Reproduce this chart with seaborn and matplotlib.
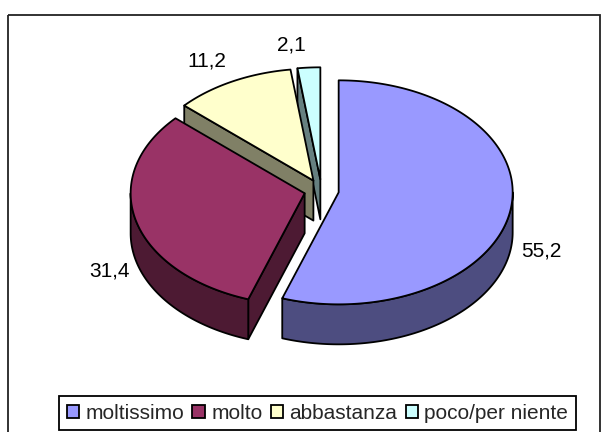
import matplotlib
matplotlib.use("Agg")
import matplotlib.pyplot as plt
import numpy as np
import seaborn as sns
from matplotlib.patches import Patch, Rectangle

categories = ["moltissimo", "molto", "abbastanza", "poco/per niente"]
values = [55.2, 31.4, 11.2, 2.1]
colors = ["#9999FF", "#993366", "#FFFFCC", "#CCFFFF"]

# Pixel layout of the pie
CX, CY = 321.5, 190.5
RX, RY = 174, 112
DEPTH = 40
EXPLODE = 0.1
LABEL_POS = [(541, 251), (109, 271), (207, 61), (291, 45)]


def point(center, angle, k=1.0):
    # angle in degrees, clockwise from the top
    a = np.radians(angle)
    return center[0] + k * RX * np.sin(a), center[1] - k * RY * np.cos(a)


def arc(center, a0, a1):
    angles = np.linspace(a0, a1, max(int(abs(a1 - a0)) * 2, 2))
    return [point(center, a) for a in angles]


def shade(color):
    return tuple(c * 0.5 for c in matplotlib.colors.to_rgb(color))


sns.set_theme(style="white")
plt.rcParams["font.family"] = ["Liberation Sans", "DejaVu Sans"]

fig = plt.figure(figsize=(6.11, 4.32), dpi=100)
ax = fig.add_axes([0, 0, 1, 1])
ax.set_xlim(0, 611)
ax.set_ylim(432, 0)
ax.axis("off")

ax.add_patch(Rectangle((8, 15), 592, 430, fill=False, edgecolor="#222222", lw=1.3))

total = sum(values)
starts = np.cumsum([0] + values[:-1]) / total * 360
sweeps = np.array(values) / total * 360
style = dict(edgecolor="black", lw=1.3, joinstyle="round")

# Back slices first so the front ones cover them
for i in [3, 2, 1, 0]:
    a0, a1 = starts[i], starts[i] + sweeps[i]
    mid = (a0 + a1) / 2
    center = point((CX, CY), mid, EXPLODE)
    dark = shade(colors[i])

    # Cut face on the start edge of the slice
    if a0 > 90:
        x, y = point(center, a0)
        ax.fill([center[0], x, x, center[0]],
                [center[1], y, y + DEPTH, center[1] + DEPTH],
                facecolor=dark, **style)

    # Outer rim on the lower half of the ellipse
    r0, r1 = max(a0, 90), min(a1, 270)
    if r1 > r0:
        top = arc(center, r0, r1)
        xs = [p[0] for p in top] + [p[0] for p in top[::-1]]
        ys = [p[1] for p in top] + [p[1] + DEPTH for p in top[::-1]]
        ax.fill(xs, ys, facecolor=dark, **style)

    # Top face
    outline = [center] + arc(center, a0, a1)
    ax.fill([p[0] for p in outline], [p[1] for p in outline],
            facecolor=colors[i], **style)

for value, (x, y) in zip(values, LABEL_POS):
    ax.text(x, y, f"{value:.1f}".replace(".", ","), ha="center", va="center",
            fontsize=15, color="black")

handles = [Patch(facecolor=c, edgecolor="black", lw=1.3) for c in colors]
ax.legend(handles, categories, ncol=4, loc="lower center",
          bbox_to_anchor=(317.5 / 611, 2 / 432), fontsize=15, frameon=True,
          fancybox=False, framealpha=1, edgecolor="black",
          handlelength=0.6, handleheight=0.6, handletextpad=0.3,
          columnspacing=0.4, borderpad=0.35, borderaxespad=0)
ax.get_legend().get_frame().set_linewidth(1.3)

fig.savefig("out.png", dpi=100)
